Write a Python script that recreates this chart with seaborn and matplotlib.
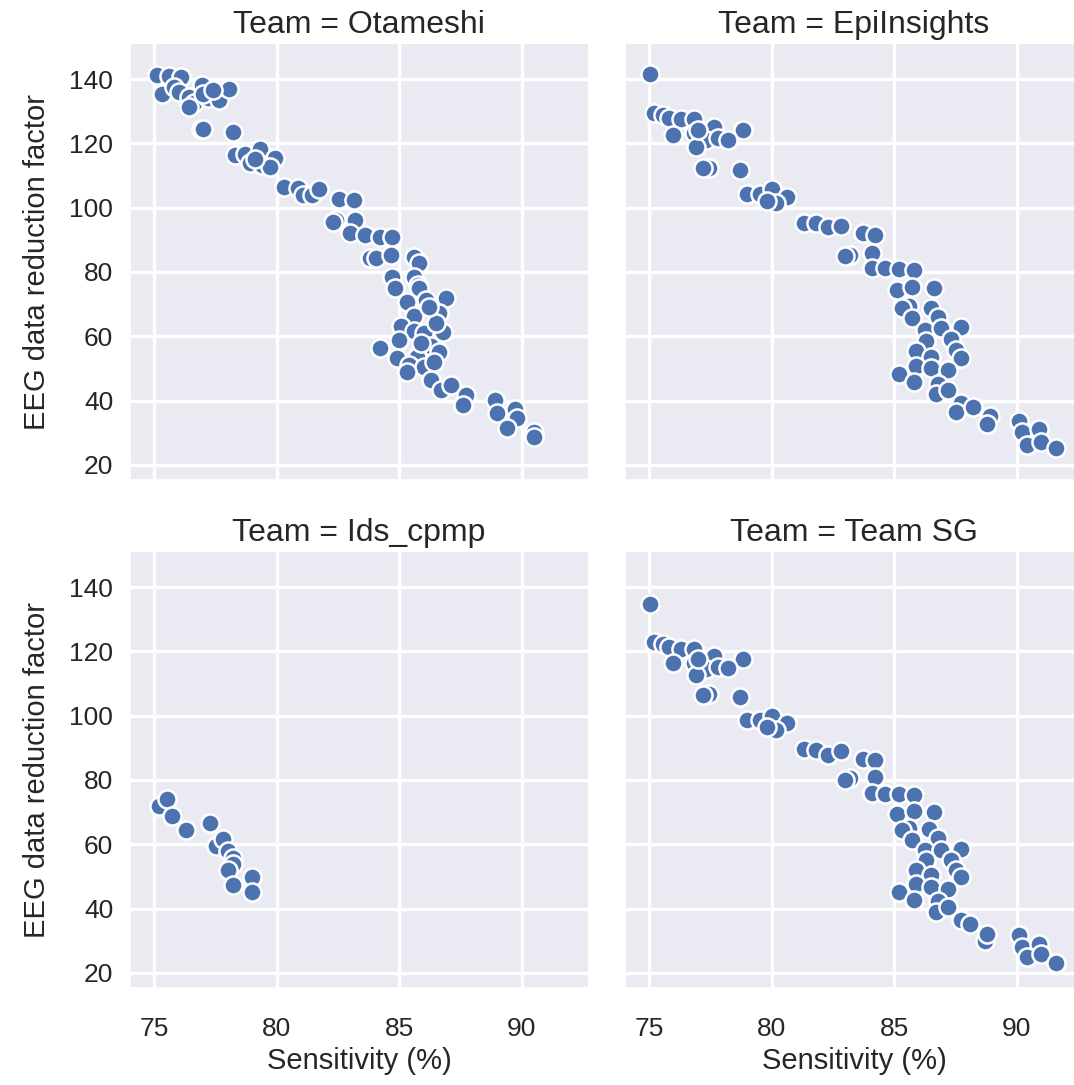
import matplotlib
matplotlib.use("Agg")
import matplotlib.pyplot as plt
import seaborn as sns
import pandas as pd

teams = ["Otameshi", "EpiInsights", "Ids_cpmp", "Team SG"]

otameshi_x = [75.1, 75.3, 75.6, 76.1, 75.8, 76.0, 76.4, 76.6, 76.4, 76.95, 77.2, 77.65, 78.06, 77.0, 77.4,
              76.9, 77.0, 78.2, 78.3, 78.7, 79.3, 79.9, 78.9, 79.4, 79.7, 79.1, 80.3, 80.85, 81.05, 81.45,
              81.7, 82.55, 83.16, 82.4, 82.3, 83.2, 83.0, 83.6, 84.2, 84.7, 83.8, 84.05, 84.66, 85.6, 85.8,
              84.7, 85.6, 84.8, 85.75, 85.8, 85.3, 86.1, 86.9, 85.6, 86.6, 85.07, 85.6, 86.8, 86.0, 85.0,
              86.3, 84.2, 84.9, 85.7, 85.4, 86.0, 85.3, 86.3, 86.7, 87.1, 87.7, 87.6, 88.9, 89.0, 89.7,
              89.8, 89.4, 90.5, 90.5, 86.5, 86.2, 85.9, 86.6, 86.4]
otameshi_y = [141.2, 135.5, 140.9, 140.7, 137.5, 136.0, 134.5, 132.6, 131.4, 138.1, 134.0, 133.5, 136.8, 135.5, 136.5,
              124.4, 124.6, 123.6, 116.4, 116.7, 118.2, 115.6, 113.8, 113.3, 112.7, 115.0, 106.5, 106.0, 104.0, 103.9,
              105.8, 102.6, 102.4, 96.1, 95.5, 96.1, 92.0, 91.5, 91.0, 91.0, 84.3, 84.3, 85.3, 84.6, 82.7,
              78.4, 78.4, 74.9, 76.0, 74.9, 70.7, 71.3, 71.8, 66.4, 67.1, 63.2, 61.6, 61.4, 61.0, 58.8,
              57.1, 56.2, 53.1, 53.6, 51.0, 50.5, 49.0, 46.4, 43.3, 44.8, 41.7, 38.6, 40.2, 36.0, 37.3,
              34.5, 31.4, 30.3, 28.8, 64.0, 69.0, 58.0, 55.0, 52.0]

epi_x = [75.04, 75.2, 75.54, 75.8, 76.3, 76.8, 75.95, 77.65, 78.8, 76.8, 77.3, 77.8, 78.2, 76.9, 77.0,
         77.45, 77.2, 78.7, 79.0, 79.5, 80.0, 80.6, 80.15, 79.8, 81.3, 81.8, 82.3, 82.8, 83.7, 84.2,
         83.2, 83.0, 84.1, 84.1, 84.6, 85.2, 85.8, 85.1, 85.7, 86.6, 85.6, 85.3, 86.5, 85.7, 86.8,
         86.25, 86.9, 87.7, 86.3, 87.3, 85.9, 86.5, 87.5, 87.7, 85.9, 86.5, 87.2, 85.2, 85.8, 86.8,
         86.7, 87.2, 87.7, 87.5, 88.2, 88.9, 88.8, 90.1, 90.2, 90.9, 90.4, 91.0, 91.6]
epi_y = [141.6, 129.5, 128.8, 128.0, 127.5, 127.5, 122.6, 125.0, 124.1, 123.1, 121.0, 121.6, 121.0, 118.9, 124.0,
         112.2, 112.2, 111.7, 104.4, 104.4, 105.7, 103.4, 101.3, 102.0, 95.3, 95.1, 94.1, 94.3, 92.0, 91.5,
         85.3, 85.0, 85.8, 81.1, 81.1, 80.8, 80.6, 74.4, 75.4, 74.9, 69.3, 68.8, 68.8, 65.6, 66.1,
         62.0, 62.5, 62.8, 58.4, 59.2, 55.3, 53.6, 55.7, 53.1, 50.9, 50.0, 49.5, 48.2, 45.8, 45.3,
         42.2, 43.3, 39.1, 36.5, 37.9, 35.2, 32.7, 33.8, 30.3, 31.3, 26.2, 27.2, 25.1]

ids_x = [75.2, 75.52, 75.7, 76.3, 77.25, 77.5, 77.8, 78.0, 78.2, 78.2, 78.0, 78.2, 79.0, 79.0]
ids_y = [71.9, 74.2, 68.75, 64.4, 66.5, 59.6, 61.7, 57.8, 55.7, 53.8, 52.1, 47.4, 49.8, 45.1]

sg_x = [75.04, 75.2, 75.54, 75.8, 76.3, 76.8, 75.95, 77.65, 78.8, 76.8, 77.3, 77.8, 78.2, 76.9, 77.0,
        77.45, 77.2, 78.7, 79.0, 79.5, 80.0, 80.6, 80.15, 79.8, 81.3, 81.8, 82.3, 82.8, 83.7, 84.2,
        83.2, 83.0, 84.2, 84.1, 84.6, 85.2, 85.8, 85.1, 85.8, 86.6, 85.6, 85.3, 86.4, 85.7, 86.8,
        86.25, 86.9, 87.7, 86.3, 87.3, 85.9, 86.5, 87.5, 87.7, 85.9, 86.5, 87.2, 85.2, 85.8, 86.8,
        86.7, 87.2, 87.7, 88.1, 88.7, 88.8, 90.1, 90.2, 90.9, 90.4, 91.0, 91.6]
sg_y = [134.7, 122.9, 122.2, 121.5, 120.8, 120.8, 116.5, 118.5, 117.7, 116.5, 114.4, 115.2, 114.9, 112.8, 117.5,
        106.6, 106.3, 105.7, 98.75, 98.75, 99.8, 97.7, 95.6, 96.5, 89.7, 89.4, 87.8, 89.1, 86.5, 86.3,
        80.5, 80.0, 80.8, 76.0, 75.7, 75.5, 75.2, 69.5, 70.5, 70.0, 65.2, 64.5, 64.9, 61.25, 61.8,
        58.1, 58.3, 58.6, 55.0, 55.0, 51.9, 50.3, 51.9, 49.8, 47.7, 46.7, 46.2, 45.1, 42.7, 42.5,
        38.8, 40.4, 36.6, 35.3, 30.0, 32.0, 31.9, 28.1, 29.0, 25.0, 25.9, 23.1]

frames = []
for team, xs, ys in zip(teams, [otameshi_x, epi_x, ids_x, sg_x], [otameshi_y, epi_y, ids_y, sg_y]):
    frames.append(pd.DataFrame({"Sensitivity (%)": xs, "EEG data reduction factor": ys, "Team": team}))
df = pd.concat(frames, ignore_index=True)

sns.set_theme(style="darkgrid")
plt.rcParams["font.family"] = ["Liberation Sans", "DejaVu Sans"]
plt.rcParams["grid.linewidth"] = 2.4

g = sns.relplot(data=df, x="Sensitivity (%)", y="EEG data reduction factor", col="Team",
                col_order=teams, col_wrap=2, kind="scatter", s=170,
                color="#4C72B0", edgecolor="white", linewidth=1.8)

fig = g.figure
fig.set_size_inches(10.74, 10.85)
W, H = 1074, 1085
lefts = [130, 625, 130, 625]
tops = [44, 44, 552, 552]
aw, ah = 458, 436
for ax, l, t in zip(g.axes.flat, lefts, tops):
    ax.set_position([l / W, 1 - (t + ah) / H, aw / W, ah / H])
    ax.set_xlim(74.0, 92.7)
    ax.set_ylim(15.3, 150.9)
    ax.tick_params(axis="both", labelsize=19, colors=".15")
    ax.tick_params(axis="x", pad=15)
    ax.tick_params(axis="y", pad=6)
    ax.set_title(ax.get_title(), fontsize=23, pad=8)
    ax.xaxis.label.set_fontsize(21)
    ax.yaxis.label.set_fontsize(21)
    ax.yaxis.labelpad = 13

fig.savefig("out.png", dpi=100)
